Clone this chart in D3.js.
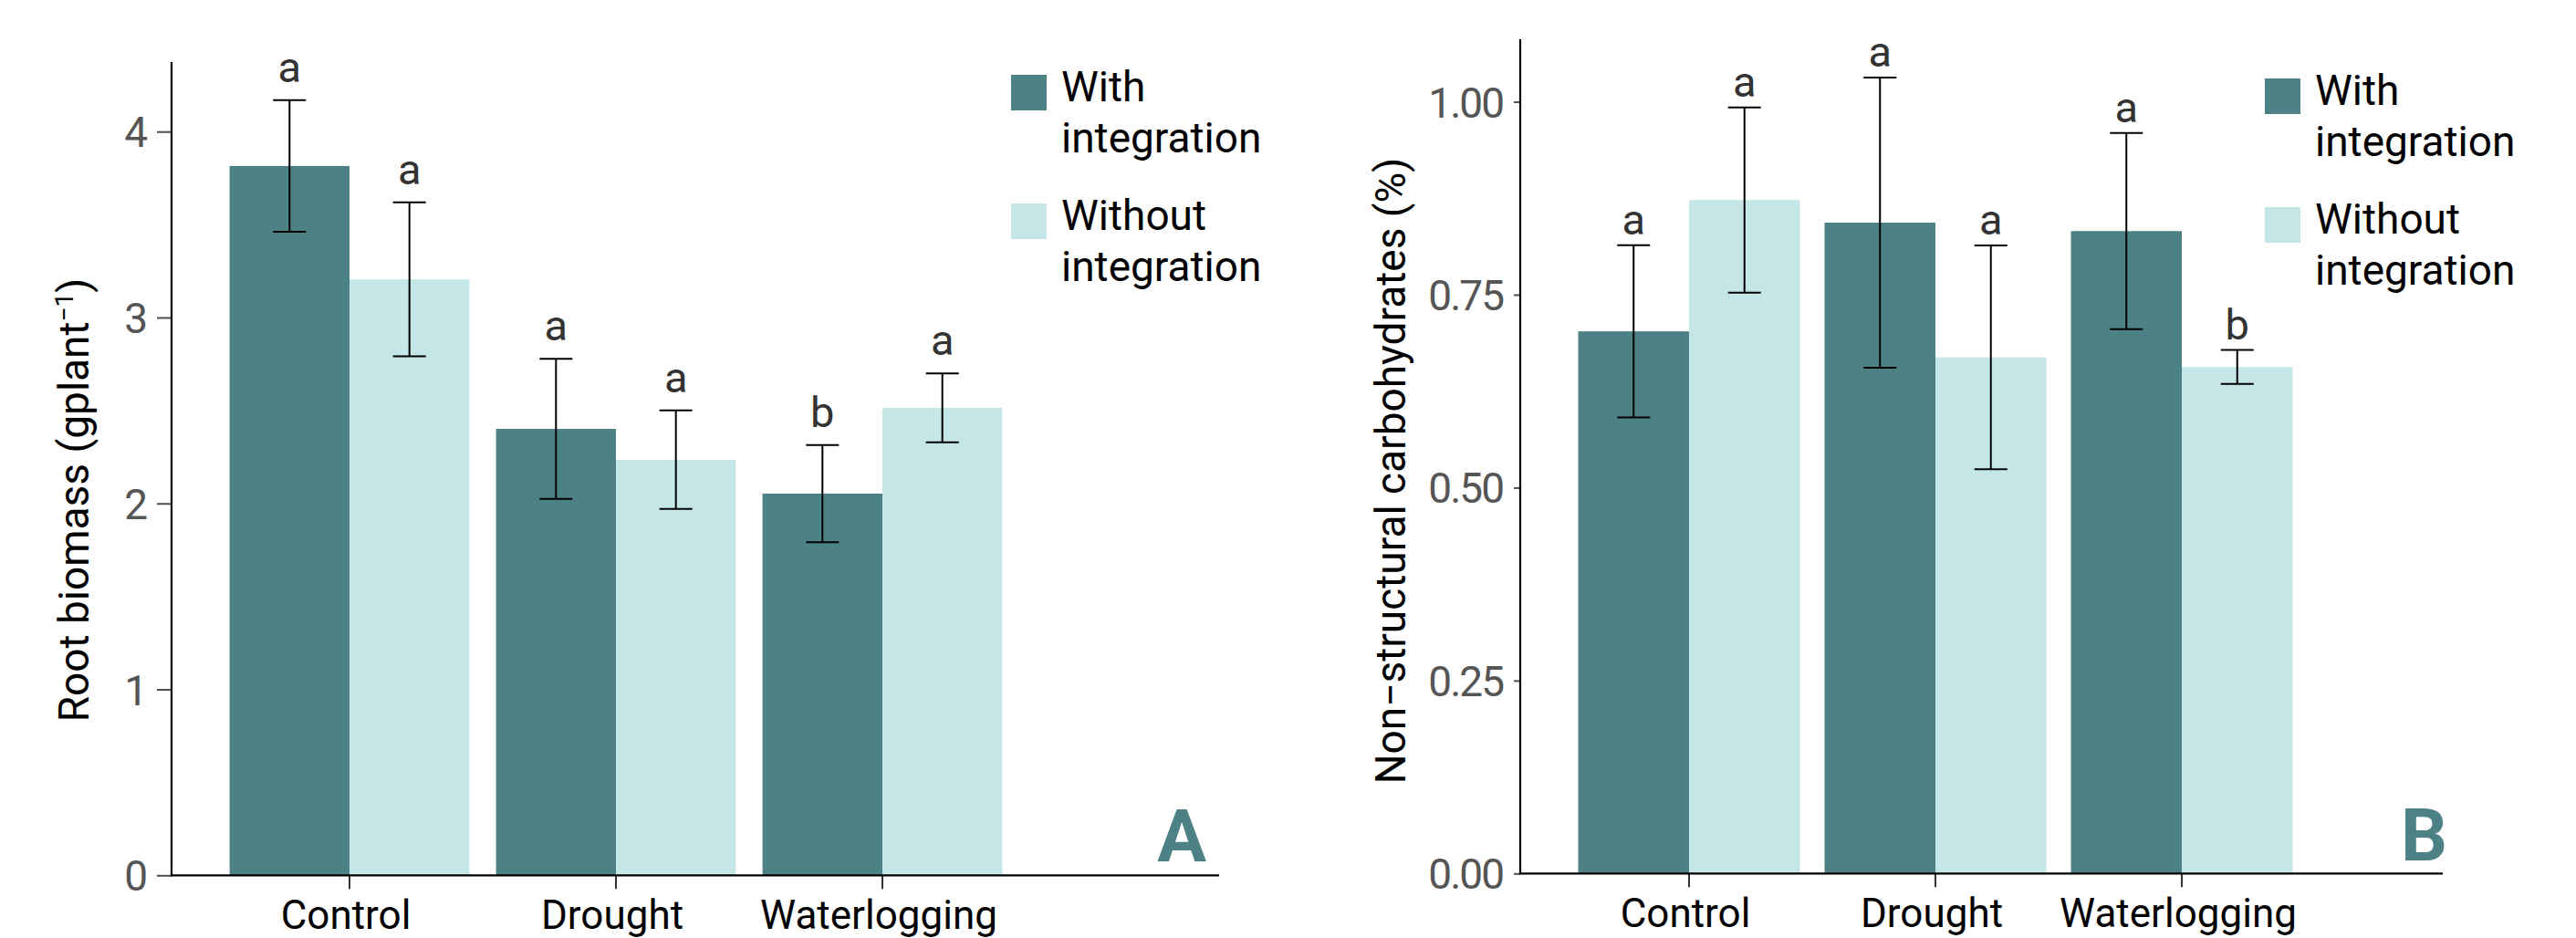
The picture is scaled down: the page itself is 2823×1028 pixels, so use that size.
<!DOCTYPE html>
<html><head><meta charset="utf-8">
<script src="https://cdn.jsdelivr.net/npm/d3@7"></script>
<style>body{margin:0;background:#fff}svg{display:block}</style>
</head><body>
<svg id="chart" width="2823" height="1028"></svg>
<script>
// ---- data ----
const categories = ["Control", "Drought", "Waterlogging"];
const seriesNames = ["With integration", "Without integration"];
const legendLines = [["With", "integration"], ["Without", "integration"]];

const biomassWith = [3.815, 2.401, 2.053];
const biomassWithSE = [0.354, 0.377, 0.261];
const biomassWithout = [3.205, 2.235, 2.514];
const biomassWithoutSE = [0.414, 0.265, 0.185];
const biomassLettersWith = ["a", "a", "b"];
const biomassLettersWithout = ["a", "a", "a"];
const biomassTicks = [0, 1, 2, 3, 4];

const nscWith = [0.7025, 0.8433, 0.8324];
const nscWithSE = [0.1115, 0.188, 0.127];
const nscWithout = [0.8727, 0.6688, 0.6564];
const nscWithoutSE = [0.12, 0.145, 0.022];
const nscLettersWith = ["a", "a", "a"];
const nscLettersWithout = ["a", "a", "b"];
const nscTicks = [0, 0.25, 0.5, 0.75, 1.0];

const colors = ["#4C8186", "#C4E6E6"];

const svg = d3.select("#chart");

function drawPanel(cfg) {
  const g = svg.append("g");
  const y = d3.scaleLinear().domain([0, cfg.yMax]).range([cfg.bottom, cfg.top]);
  const x = d3.scaleBand().domain(categories).range(cfg.bandRange).padding(0);
  const groupW = x.step() * 0.9;
  const xs = d3.scaleBand().domain(seriesNames).range([-groupW / 2, groupW / 2]).padding(0);

  const rows = [];
  categories.forEach((c, i) => {
    rows.push({cat: c, s: seriesNames[0], v: cfg.with[i], se: cfg.withSE[i], lab: cfg.lettersWith[i], col: colors[0]});
    rows.push({cat: c, s: seriesNames[1], v: cfg.without[i], se: cfg.withoutSE[i], lab: cfg.lettersWithout[i], col: colors[1]});
  });
  const cx = d => x(d.cat) + x.bandwidth() / 2 + xs(d.s);

  // bars
  g.selectAll("rect.bar").data(rows).join("rect")
    .attr("x", d => cx(d)).attr("width", xs.bandwidth())
    .attr("y", d => y(d.v)).attr("height", d => y(0) - y(d.v))
    .attr("fill", d => d.col);

  // error bars
  const capW = 36;
  const eb = g.selectAll("g.eb").data(rows).join("g")
    .attr("transform", d => `translate(${cx(d) + xs.bandwidth() / 2},0)`);
  eb.append("line").attr("x1", 0).attr("x2", 0)
    .attr("y1", d => y(d.v - d.se)).attr("y2", d => y(d.v + d.se))
    .attr("stroke", "#000").attr("stroke-width", 2);
  eb.append("line").attr("x1", -capW / 2).attr("x2", capW / 2)
    .attr("y1", d => y(d.v + d.se)).attr("y2", d => y(d.v + d.se))
    .attr("stroke", "#000").attr("stroke-width", 2);
  eb.append("line").attr("x1", -capW / 2).attr("x2", capW / 2)
    .attr("y1", d => y(d.v - d.se)).attr("y2", d => y(d.v - d.se))
    .attr("stroke", "#000").attr("stroke-width", 2);
  eb.append("text").attr("x", 0).attr("y", d => y(d.v + d.se) - cfg.letterGap)
    .attr("text-anchor", "middle").attr("font-family", "Roboto").attr("font-size", 47)
    .attr("fill", "#333").text(d => d.lab);

  // y axis
  const yAxis = d3.axisLeft(y).tickValues(cfg.ticks).tickFormat(cfg.fmt)
    .tickSize(cfg.yTick).tickPadding(cfg.yPad);
  const ya = g.append("g").attr("transform", `translate(${cfg.left},0)`).call(yAxis);
  ya.select(".domain").remove();
  ya.selectAll(".tick line").attr("stroke", "#4d4d4d").attr("stroke-width", 2);
  ya.selectAll(".tick text").attr("font-family", "Roboto")
    .attr("font-size", 46).attr("fill", "#555").attr("letter-spacing", cfg.ls).attr("dy", "0.36em");
  g.append("line").attr("x1", cfg.left).attr("x2", cfg.left)
    .attr("y1", cfg.top).attr("y2", cfg.bottom + 1).attr("stroke", "#000").attr("stroke-width", 2.2);

  // x axis
  const xAxis = d3.axisBottom(x).tickSize(15).tickPadding(12);
  const xa = g.append("g").attr("transform", `translate(0,${cfg.bottom})`).call(xAxis);
  xa.select(".domain").remove();
  xa.selectAll(".tick line").attr("stroke", "#333").attr("stroke-width", 2);
  xa.selectAll(".tick text").attr("font-family", "Roboto").attr("font-size", 44)
    .attr("fill", "#000").attr("dy", "0.71em").attr("dx", -4);
  g.append("line").attr("x1", cfg.left - 1).attr("x2", cfg.right)
    .attr("y1", cfg.bottom).attr("y2", cfg.bottom).attr("stroke", "#000").attr("stroke-width", 2.2);

  // y title
  const t = g.append("text")
    .attr("transform", `translate(${cfg.titleX},${cfg.titleY}) rotate(-90)`)
    .attr("text-anchor", "middle").attr("font-family", "Roboto").attr("font-size", 46)
    .attr("fill", "#000");
  cfg.title(t);

  // legend
  const lg = g.append("g").attr("transform", `translate(${cfg.legX},${cfg.legY})`);
  seriesNames.forEach((s, i) => {
    const it = lg.append("g").attr("transform", `translate(0,${i * 141})`);
    it.append("rect").attr("width", 39).attr("height", 39).attr("fill", colors[i]);
    legendLines[i].forEach((ln, j) => {
      it.append("text").attr("x", 55).attr("y", 29 + j * 56)
        .attr("font-family", "Roboto").attr("font-size", 46).attr("fill", "#000").text(ln);
    });
  });

  // panel letter
  g.append("text").attr("x", cfg.letterX).attr("y", cfg.letterY)
    .attr("text-anchor", "end").attr("font-family", "Roboto").attr("font-weight", "bold")
    .attr("font-size", 80).attr("fill", colors[0]).text(cfg.panel);
}

drawPanel({
  with: biomassWith, withSE: biomassWithSE, without: biomassWithout, withoutSE: biomassWithoutSE,
  lettersWith: biomassLettersWith, lettersWithout: biomassLettersWithout,
  ticks: biomassTicks, fmt: d3.format("d"), yMax: 4.374,
  left: 188, right: 1336, top: 68, bottom: 959.3, bandRange: [237, 1113],
  yTick: 16, yPad: 10, ls: 0, letterGap: 20,
  titleX: 97, titleY: 548,
  title: t => { t.append("tspan").text("Root biomass (gplant");
                t.append("tspan").attr("font-size", 28).attr("dy", -17).text("−1");
                t.append("tspan").attr("dy", 17).text(")"); },
  legX: 1108, legY: 82, letterX: 1322, letterY: 944, panel: "A"
});

drawPanel({
  with: nscWith, withSE: nscWithSE, without: nscWithout, withoutSE: nscWithoutSE,
  lettersWith: nscLettersWith, lettersWithout: nscLettersWithout,
  ticks: nscTicks, fmt: d3.format(".2f"), yMax: 1.081,
  left: 1666, right: 2677, top: 43, bottom: 957.3, bandRange: [1716, 2526],
  yTick: 7, yPad: 12, ls: -2, letterGap: 12,
  titleX: 1540, titleY: 516,
  title: t => { t.text("Non−structural carbohydrates (%)"); },
  legX: 2482, legY: 86, letterX: 2682, letterY: 943, panel: "B"
});
</script>
</body></html>
